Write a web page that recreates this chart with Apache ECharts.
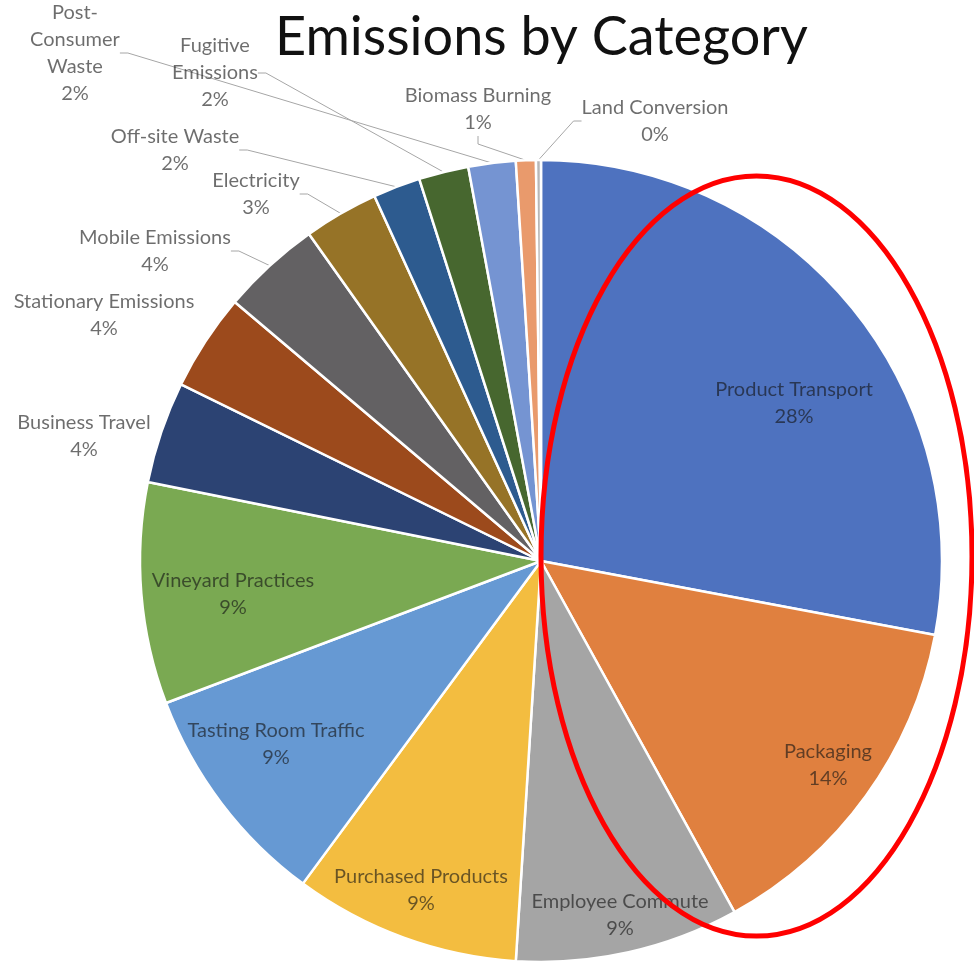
<!DOCTYPE html>
<html><head><meta charset="utf-8">
<script src="https://cdn.jsdelivr.net/npm/echarts@6/dist/echarts.min.js"></script>
<style>html,body{margin:0;padding:0;background:#fff}#c{width:974px;height:962px}</style>
</head><body><div id="c"></div>
<script>
const chartTitle = 'Emissions by Category';
const categories = ['Product Transport','Packaging','Employee Commute','Purchased Products','Tasting Room Traffic','Vineyard Practices','Business Travel','Stationary Emissions','Mobile Emissions','Electricity','Off-site Waste','Fugitive Emissions','Post-Consumer Waste','Biomass Burning','Land Conversion'];
const values = [27.9, 14.0, 9.0, 9.1, 9.1, 8.9, 4.1, 3.9, 4.0, 3.0, 1.9, 2.0, 1.9, 0.8, 0.2];
const colors = ['#4E72BF','#E0803F','#A5A5A5','#F3BD40','#6699D3','#7AA952','#2C4373','#9C4A1C','#636163','#967327','#2D5B8F','#47672F','#7594D2','#E99A6C','#B7B7B7'];

// label placement (layout, not data)
const labelPos = {
  'Product Transport':[794,403], 'Packaging':[828,765], 'Employee Commute':[620,915],
  'Purchased Products':[421,890], 'Tasting Room Traffic':[276,744], 'Vineyard Practices':[233,594],
  'Business Travel':[84,436], 'Stationary Emissions':[104,315], 'Mobile Emissions':[155,251],
  'Electricity':[256,194], 'Off-site Waste':[175,150], 'Fugitive Emissions':[215,73],
  'Post-Consumer Waste':[75,53], 'Biomass Burning':[478,109], 'Land Conversion':[655,121]
};
const wrapped = {'Post-Consumer Waste':'Post-\nConsumer\nWaste','Fugitive Emissions':'Fugitive\nEmissions'};
const noLine = ['Product Transport','Packaging','Employee Commute','Purchased Products','Tasting Room Traffic','Vineyard Practices','Business Travel','Stationary Emissions'];

const chart = echarts.init(document.getElementById('c'));
const data = categories.map((n, i) => ({
  name: n, value: values[i],
  itemStyle: {color: colors[i]},
  labelLine: {show: noLine.indexOf(n) < 0}
}));

chart.setOption({
  animation: false,
  title: {
    text: chartTitle, left: 270, top: 6,
    textStyle: {fontFamily: 'Lato', fontSize: 54, fontWeight: 'normal', color: '#111'}
  },
  series: [{
    type: 'pie',
    center: [541, 561],
    radius: 401,
    startAngle: 90,
    clockwise: true,
    avoidLabelOverlap: false,
    minShowLabelAngle: 0,
    percentPrecision: 0,
    data: data,
    itemStyle: {borderColor: '#fff', borderWidth: 2.5},
    label: {
      show: true, position: 'outside',
      fontFamily: 'Lato', fontSize: 20, lineHeight: 27,
      color: 'rgba(20,20,20,0.62)',
      formatter: p => (wrapped[p.name] || p.name) + '\n' + p.percent + '%'
    },
    labelLine: {show: true, length: 10, length2: 8, smooth: false,
      lineStyle: {color: '#A6A6A6', width: 1}},
    labelLayout: function (p) {
      const pos = labelPos[categories[p.dataIndex]];
      return {x: pos[0], y: pos[1], align: 'center', verticalAlign: 'middle'};
    }
  }],
  graphic: [{
    type: 'ellipse', z: 100,
    shape: {cx: 756.5, cy: 556, rx: 215.5, ry: 380},
    style: {fill: 'none', stroke: '#FF0000', lineWidth: 5}
  }]
});
</script></body></html>
